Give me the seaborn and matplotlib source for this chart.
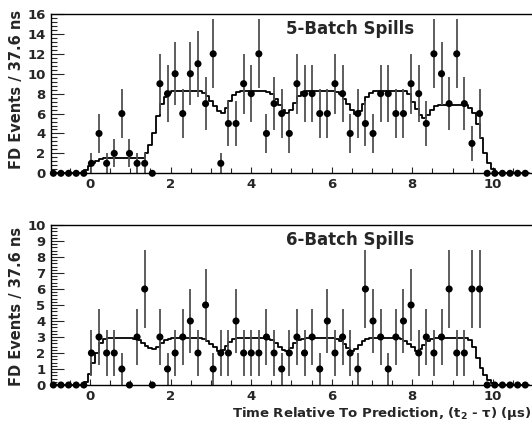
import numpy as np
import matplotlib
matplotlib.use("Agg")
import matplotlib.pyplot as plt
import seaborn as sns
from matplotlib.ticker import MultipleLocator

# FD event counts per 0.1889 us bin, first bin starting at -1.004 us
five_batch_counts = [0, 0, 0, 0, 0, 1, 4, 1, 2, 6, 2, 1, 1, 0, 9,
                     8, 10, 6, 10, 11, 7, 12, 1, 5, 5, 9, 8, 12, 4, 7,
                     6, 4, 9, 8, 8, 6, 6, 9, 8, 4, 6, 5, 4, 8, 8,
                     6, 6, 9, 8, 5, 12, 10, 7, 12, 7, 3, 6, 0, 0, 0,
                     0, 0, 0]
six_batch_counts = [0, 0, 0, 0, 0, 2, 3, 2, 2, 1, 0, 3, 6, 0, 3,
                    1, 2, 3, 4, 2, 5, 1, 2, 2, 4, 2, 2, 2, 3, 2,
                    1, 2, 3, 2, 3, 1, 4, 2, 3, 2, 1, 6, 4, 3, 1,
                    3, 4, 5, 2, 3, 2, 3, 6, 2, 2, 6, 6, 0, 0, 0,
                    0, 0, 0]

# predicted distribution, half-width bins
five_batch_pred = [0, 0, 0, 0, 0, 0, 0, 0, 0, 0.3, 0.7, 1.0, 1.2, 1.4, 1.5,
                   1.5, 1.5, 1.5, 1.5, 1.5, 1.5, 1.5, 1.5, 1.5, 1.5,
                   2.0, 2.8, 4.0, 5.8, 7.0, 7.7, 8.1, 8.3,
                   8.3, 8.3, 8.3, 8.3, 8.3, 8.3, 8.3,
                   8.1, 7.8, 7.3, 6.8, 6.3, 6.1, 6.6, 7.3, 7.9, 8.2, 8.3,
                   8.3, 8.3, 8.3, 8.3, 8.3, 8.3, 8.2,
                   8.0, 7.5, 6.9, 6.4, 6.1, 6.4, 7.1, 7.8, 8.2, 8.3,
                   8.3, 8.3, 8.3, 8.3, 8.3, 8.3, 8.3, 8.2,
                   8.0, 7.5, 7.0, 6.4, 6.0, 6.3, 7.0, 7.7, 8.1, 8.3,
                   8.3, 8.3, 8.3, 8.3, 8.3, 8.3, 8.3, 8.3,
                   8.0, 7.2, 6.5, 5.9, 5.6, 5.9, 6.4, 6.8, 6.9,
                   6.9, 6.9, 6.9, 6.9, 6.9, 6.9, 6.9,
                   6.6, 6.1, 5.0, 3.5, 2.0, 1.0, 0.4,
                   0, 0, 0, 0, 0, 0, 0, 0, 0]
six_batch_pred = [0, 0, 0, 0, 0, 0, 0, 0, 0, 0.2, 0.7, 1.4, 2.0, 2.6, 2.85,
                  2.95, 2.95, 2.95, 2.95, 2.95, 2.95, 2.95,
                  2.9, 2.8, 2.6, 2.45, 2.3, 2.25, 2.4, 2.6, 2.8, 2.9,
                  2.95, 2.95, 2.95, 2.95, 2.95, 2.95, 2.95, 2.95,
                  2.9, 2.75, 2.55, 2.35, 2.15, 2.2, 2.45, 2.7, 2.85,
                  2.95, 2.95, 2.95, 2.95, 2.95, 2.95, 2.95, 2.95,
                  2.9, 2.8, 2.6, 2.4, 2.2, 2.1, 2.3, 2.6, 2.8, 2.9,
                  2.95, 2.95, 2.95, 2.95, 2.95, 2.95, 2.95, 2.95,
                  2.9, 2.75, 2.55, 2.3, 2.15, 2.25, 2.5, 2.75, 2.9,
                  2.95, 2.95, 2.95, 2.95, 2.95, 2.95, 2.95, 2.95,
                  2.9, 2.75, 2.55, 2.35, 2.15, 2.25, 2.5, 2.75, 2.9,
                  2.95, 2.95, 2.95, 2.95, 2.95, 2.95, 2.95, 2.95, 2.95,
                  2.8, 2.4, 1.7, 1.05, 0.6, 0.3, 0.1,
                  0, 0, 0, 0, 0, 0, 0, 0, 0]

panel_titles = ["5-Batch Spills", "6-Batch Spills"]
y_maxes = [16, 10]

bin_start = -1.004
bin_width = 0.1889

sns.set_style("ticks")
plt.rcParams['font.family'] = ['DejaVu Sans']
plt.rcParams['font.weight'] = 'bold'
plt.rcParams['mathtext.fontset'] = 'custom'
plt.rcParams['mathtext.rm'] = 'DejaVu Sans:bold'
plt.rcParams['mathtext.it'] = 'DejaVu Sans:bold'
plt.rcParams['mathtext.bf'] = 'DejaVu Sans:bold'

fig = plt.figure(figsize=(5.32, 4.28), dpi=100)
ax_top = fig.add_axes([51 / 532, 1 - 173.3 / 428, 481 / 532, 159.3 / 428])
ax_bot = fig.add_axes([51 / 532, 1 - 385 / 428, 481 / 532, 160 / 428])

panels = [(ax_top, five_batch_counts, five_batch_pred),
          (ax_bot, six_batch_counts, six_batch_pred)]

for i, (ax, counts, pred) in enumerate(panels):
    counts = np.array(counts, dtype=float)
    pred = np.array(pred, dtype=float)
    centers = bin_start + bin_width * (np.arange(len(counts)) + 0.5)
    edges = bin_start + bin_width / 2 * np.arange(len(pred) + 1)

    sns.lineplot(x=edges, y=np.append(pred, pred[-1]), drawstyle='steps-post',
                 color='black', lw=1.3, estimator=None, sort=False, ax=ax, zorder=2)
    err = np.sqrt(counts)
    nz = counts > 0
    ax.vlines(centers[nz], (counts - err)[nz], (counts + err)[nz],
              color='#505050', lw=1.3, zorder=2)
    sns.scatterplot(x=centers, y=counts, color='black', s=26, edgecolor='none',
                    ax=ax, zorder=3, clip_on=False)

    ax.set_xlim(-0.968, 10.97)
    ax.set_ylim(0, y_maxes[i])
    ax.xaxis.set_major_locator(MultipleLocator(2))
    ax.xaxis.set_minor_locator(MultipleLocator(0.5))
    if y_maxes[i] == 16:
        ax.yaxis.set_major_locator(MultipleLocator(2))
        ax.yaxis.set_minor_locator(MultipleLocator(0.4))
    else:
        ax.yaxis.set_major_locator(MultipleLocator(1))
        ax.yaxis.set_minor_locator(MultipleLocator(0.2))
    ax.tick_params(axis='x', which='major', direction='in', length=4, width=0.8,
                   labelsize=9.5, pad=3.5)
    ax.tick_params(axis='x', which='minor', direction='in', length=3.5, width=0.8)
    ax.tick_params(axis='y', which='major', direction='in', length=9, width=0.8,
                   labelsize=9.5, pad=4)
    ax.tick_params(axis='y', which='minor', direction='in', length=4.5, width=0.8)
    for lab in ax.get_xticklabels() + ax.get_yticklabels():
        lab.set_fontweight('bold')
    for side in ['top', 'left', 'bottom']:
        ax.spines[side].set_linewidth(1.0)
        ax.spines[side].set_color('black')
    ax.spines['right'].set_visible(False)

    ax.text(0.621, 0.905, panel_titles[i], transform=ax.transAxes, ha='center',
            va='center', fontsize=12, fontweight='bold')
    ax.set_ylabel("FD Events / 37.6 ns", fontsize=10.5, fontweight='bold', loc='top')
    ax.set_xlabel("")

ax_top.yaxis.set_label_coords(-0.056, 1.025)
ax_bot.yaxis.set_label_coords(-0.056, 0.99)

fig.text(0.999, 1 - 417 / 428, r"Time Relative To Prediction, (t$_2$ - τ) (μs)",
         ha='right', va='baseline', fontsize=9.5, fontweight='bold')

fig.savefig("out.png", dpi=100)
